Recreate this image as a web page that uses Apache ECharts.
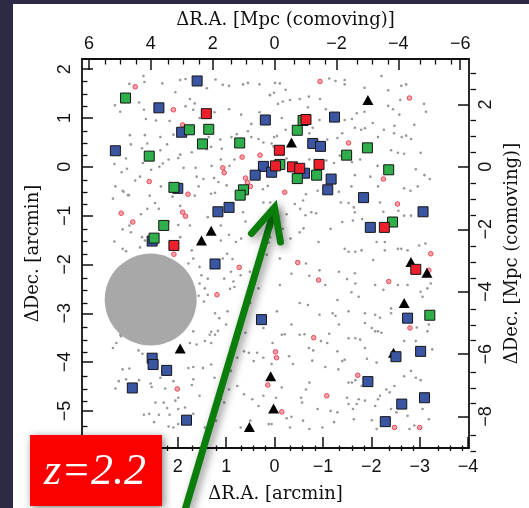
<!DOCTYPE html>
<html>
<head>
<meta charset="utf-8">
<script src="https://cdn.jsdelivr.net/npm/echarts@6/dist/echarts.min.js"></script>
<style>
  html, body { margin: 0; padding: 0; background: #ffffff; }
  #chart { width: 529px; height: 508px; }
</style>
</head>
<body>
<div id="chart"></div>
<script>
// Sky offsets from the field centre, in arcmin: [ΔR.A., ΔDec.]
const blueSquares = [
  [1.60, 1.76], [2.39, 1.21], [0.19, 0.96], [-1.24, 1.02], [1.92, 0.71], [3.29, 0.33],
  [-0.79, 0.48], [-0.95, 0.42], [0.23, 0.01], [0.06, -0.11], [0.40, -0.17], [-0.62, -0.13],
  [-1.17, -0.25], [-1.10, -0.47], [2.00, -0.44], [-1.84, -0.63], [0.94, -0.83], [1.17, -0.92],
  [-3.07, -0.92], [2.53, -1.52], [-1.98, -1.24], [1.23, -1.99], [0.27, -3.13], [-2.75, -3.10],
  [2.53, -3.92], [2.51, -4.05], [2.23, -4.17], [2.94, -4.53], [1.82, -5.19], [-1.93, -4.40],
  [-2.51, -3.89], [-3.02, -3.78], [-2.63, -4.86], [-3.10, -4.73], [-2.29, -5.22]
];
const greenSquares = [
  [3.08, 1.41], [1.76, 0.76], [1.36, 0.77], [1.49, 0.47], [0.72, 0.49], [2.59, 0.22],
  [-0.47, 0.75], [-0.59, 0.95], [-1.92, 0.39], [-1.49, 0.24], [-2.36, -0.06], [-0.11, 0.05],
  [-0.47, -0.24], [-0.87, -0.17], [2.08, -0.42], [0.64, -0.47], [0.71, -0.58], [2.29, -1.20],
  [2.49, -1.46], [-2.44, -1.13], [-3.21, -3.04]
];
const redSquares = [
  [1.41, 1.09], [-0.65, 0.97], [-0.10, 0.34], [-0.02, 0.02], [-0.37, 0.00], [-0.52, -0.03],
  [-0.92, 0.05], [2.08, -1.61], [-2.27, -1.24], [-2.92, -2.10]
];
const blackTriangles = [
  [-1.93, 1.37], [-0.35, 0.50], [1.31, -1.31], [1.51, -1.51], [-2.82, -1.95], [-3.15, -2.17],
  [-2.68, -2.79], [1.95, -3.72], [-2.46, -3.81], [0.08, -4.29], [0.02, -4.95], [0.52, -5.33]
];
const pinkCircles = [
  [2.88, 1.64], [2.09, 1.17], [1.90, 0.86], [-0.94, 1.75], [-2.79, 1.41], [-1.53, 0.49],
  [0.67, 0.20], [0.30, 0.24], [1.07, -0.02], [1.04, -0.12], [0.60, -0.23], [0.56, -0.32],
  [0.50, -0.40], [2.59, -0.30], [1.79, -0.56], [-0.21, -0.52], [-2.25, -0.25], [3.17, -0.95],
  [2.93, -1.13], [1.90, -0.93], [1.84, -1.01], [-2.54, -0.76], [2.08, -1.79], [0.73, -2.06],
  [-0.48, -1.96], [-3.23, -1.78], [-3.19, -2.12], [-0.91, -2.32], [-2.36, -2.35], [1.19, -2.62],
  [-2.80, -3.30], [-0.81, -3.50], [-0.02, -3.79], [-0.04, -3.91], [2.01, -4.55], [-1.72, -4.27],
  [0.14, -4.47], [-1.08, -4.69], [-0.15, -5.02], [-2.48, -5.34], [-3.00, -5.34]
];
const grayDots = [
  [2.71,1.86],[2.69,1.74],[3.00,1.70],[2.32,1.71],[1.95,1.78],[1.84,1.80],[1.40,1.61],[1.22,1.79],[1.07,1.68],[0.94,1.66],
  [0.65,1.69],[0.55,1.72],[0.31,1.69],[3.30,1.26],[3.19,1.13],[2.80,1.32],[2.70,1.17],[2.66,0.98],[2.45,0.95],[2.17,0.94],
  [2.05,1.53],[1.75,1.39],[1.65,1.30],[1.84,1.24],[1.68,1.17],[1.55,1.00],[1.24,1.12],[0.94,1.18],[0.69,1.07],[0.48,0.88],
  [0.31,1.12],[0.10,1.47],[0.55,0.73],[0.48,0.61],[0.33,0.57],[0.23,0.50],[0.06,0.48],[0.01,0.61],[2.99,0.65],[2.68,0.65],
  [2.63,0.48],[2.36,0.61],[2.09,0.66],[2.22,0.46],[2.97,0.46],[2.74,0.38],[2.36,0.34],[1.95,0.25],[1.71,0.30],[2.19,0.15],
  [2.31,0.07],[2.72,0.08],[3.07,0.17],[3.31,0.06],[3.16,-0.11],[3.05,-0.04],[2.78,-0.20],[2.88,-0.28],[2.55,-0.06],[2.38,0.00],
  [1.99,0.18],[1.88,-0.02],[1.63,-0.02],[1.61,-0.20],[1.47,-0.25],[1.25,-0.23],[1.16,-0.31],[0.99,-0.38],[0.93,0.02],[0.83,0.15],
  [1.30,0.02],[1.11,0.15],[1.40,0.36],[1.31,0.41],[1.09,0.37],[0.89,0.61],[0.78,0.67],[1.12,0.56],[1.36,0.61],[3.29,-0.40],
  [3.14,-0.49],[3.03,-0.58],[2.35,-0.40],[1.57,-0.40],[1.31,-0.55],[1.23,-0.53],[0.24,-0.46],[0.14,-0.39],[2.58,-0.59],[2.11,-0.61],
  [-0.01,1.72],[-0.11,1.71],[0.01,1.52],[-0.23,1.58],[-1.13,1.81],[-1.26,1.76],[-1.45,1.78],[-1.45,1.69],[-1.86,1.62],[-2.21,1.86],
  [-2.62,1.66],[-2.72,1.69],[-2.35,1.57],[0.09,1.47],[-0.07,1.29],[-0.17,1.34],[-0.32,1.37],[-0.52,1.39],[-0.71,1.44],[-0.94,1.39],
  [-1.06,1.18],[-0.69,1.22],[-0.93,0.96],[-1.45,0.96],[-1.60,0.98],[-1.70,1.10],[-1.86,1.13],[-2.03,0.90],[-2.35,1.25],[-2.45,1.18],
  [-2.58,1.07],[-2.60,1.37],[-3.09,1.29],[-3.13,1.13],[-2.89,0.86],[-2.48,0.84],[-2.47,0.69],[-2.63,0.61],[-2.72,0.64],[-2.82,0.57],
  [-2.26,0.76],[-2.14,0.61],[-1.87,0.79],[-1.66,0.80],[-1.79,0.76],[-1.30,0.59],[-1.09,0.56],[-0.72,0.69],[-0.79,0.80],[-0.23,0.76],
  [-0.05,0.63],[0.02,0.42],[-1.35,0.23],[-1.77,0.15],[-1.60,0.10],[-2.13,0.02],[-2.41,0.34],[-2.55,0.29],[-2.68,0.27],[-3.02,0.29],
  [-2.92,-0.05],[-3.10,-0.17],[-3.21,-0.25],[-2.68,-0.44],[-2.81,-0.49],[-2.96,-0.40],[-2.14,-0.40],[-1.98,-0.20],[-1.66,-0.17],[-1.59,-0.40],
  [-1.33,-0.51],[-0.89,-0.49],[-0.65,-0.56],[-1.23,0.08],[-0.72,0.15],[-1.07,0.13],[-0.25,0.17],[-1.40,0.69],[-0.15,1.00],
  [3.34,-0.65],[3.12,-0.51],[3.01,-0.58],[2.47,-0.74],[2.39,-0.86],[2.63,-0.86],[2.76,-0.97],[3.00,-1.20],[2.97,-1.34],[3.14,-1.28],
  [3.31,-1.53],[3.14,-1.68],[3.07,-1.73],[2.78,-1.65],[2.68,-1.51],[2.74,-1.44],[2.19,-1.12],[1.99,-1.19],[1.95,-1.44],[1.75,-1.20],
  [1.71,-1.71],[1.68,-1.88],[1.78,-1.98],[1.55,-2.05],[1.51,-2.22],[1.38,-2.29],[1.55,-2.39],[1.44,-2.49],[1.57,-2.64],[1.38,-2.62],
  [1.46,-2.76],[1.23,-3.00],[1.14,-3.10],[0.97,-2.96],[1.00,-3.23],[1.31,-3.38],[1.23,-3.44],[1.68,-3.37],[3.19,-3.44],[0.92,-2.50],
  [0.83,-2.46],[0.85,-2.35],[0.70,-2.22],[0.51,-2.15],[0.90,-2.15],[1.04,-2.29],[1.07,-1.88],[0.87,-1.89],[0.98,-1.78],[0.80,-1.54],
  [0.69,-1.47],[1.11,-1.51],[0.94,-1.39],[0.60,-1.12],[0.65,-0.93],[0.23,-0.73],[0.09,-0.73],[0.12,-1.55],[0.16,-1.80],[0.33,-2.49],
  [0.50,-2.79],[0.23,-3.30],[0.60,-3.40],[1.11,-1.20],[1.38,-1.03],[1.65,-0.59],[1.95,-0.80],
  [-0.25,-0.97],[-0.42,-0.76],[-0.59,-0.69],[-0.76,-0.93],[-0.86,-0.95],[-0.64,-0.99],[-0.53,-0.86],[-0.17,-1.27],[-0.33,-1.47],[-0.52,-1.34],
  [-0.60,-1.26],[-0.91,-1.54],[-1.16,-1.27],[-1.37,-0.73],[-1.53,-0.74],[-1.64,-0.83],[-1.66,-0.93],[-1.62,-1.10],[-1.81,-1.07],[-1.40,-1.13],
  [-1.45,-1.68],[-1.53,-1.74],[-1.67,-1.74],[-1.80,-1.71],[-2.04,-1.91],[-2.11,-1.54],[-2.28,-1.71],[-2.28,-1.54],[-2.55,-1.68],[-2.62,-1.68],
  [-2.75,-1.71],[-2.99,-1.61],[-3.12,-1.57],[-2.82,-1.00],[-2.68,-1.00],[-2.56,-0.90],[-2.25,-0.92],[-2.18,-0.73],[-0.11,-1.88],[-0.35,-2.19],
  [-0.11,-2.42],[-0.65,-1.98],[-0.93,-2.12],[-0.72,-2.23],[-1.05,-2.42],[-1.33,-2.15],[-1.50,-2.30],[-1.67,-2.39],[-1.66,-2.18],[-2.08,-2.42],
  [-2.25,-2.52],[-2.55,-2.42],[-2.75,-2.42],[-3.02,-2.56],[-3.06,-2.66],[-3.16,-2.49],[-3.23,-2.39],[-1.59,-2.57],[-1.74,-2.66],[-1.30,-2.73],
  [-0.69,-2.83],[-0.52,-2.79],[-0.05,-2.96],[-0.35,-3.23],[-0.93,-3.03],[-1.20,-3.00],[-1.26,-3.05],[-1.53,-2.96],[-1.87,-3.00],[-2.08,-3.03],
  [-2.18,-3.09],[-2.41,-2.90],[-2.41,-3.00],[-1.87,-3.20],[-2.01,-3.30],[-2.14,-3.37],[-1.33,-3.23],[-1.13,-3.42],[-0.52,-3.44],[-0.15,-3.44],
  [-2.94,-3.29],[-3.19,-3.23],[0.09,-1.44],[0.06,-1.24],
  [3.17,-3.47],[2.81,-3.76],[2.73,-3.83],[1.75,-3.61],[1.61,-3.64],[1.44,-3.57],[1.31,-3.61],[1.17,-3.36],[1.34,-3.44],[3.14,-4.15],
  [3.00,-4.13],[3.22,-4.39],[3.29,-4.54],[3.07,-4.35],[2.80,-4.37],[2.56,-4.44],[2.54,-4.51],[2.36,-4.32],[2.26,-4.54],[2.09,-4.39],
  [1.78,-4.12],[1.68,-4.10],[1.48,-4.12],[1.31,-4.05],[1.68,-4.35],[1.71,-4.47],[1.24,-4.32],[1.99,-4.73],[2.05,-4.79],[2.46,-4.83],
  [2.29,-4.83],[2.22,-4.94],[2.70,-5.08],[2.59,-5.06],[2.39,-5.08],[2.17,-5.08],[1.99,-4.96],[1.85,-4.93],[1.68,-5.06],[1.55,-4.69],
  [1.24,-4.96],[1.34,-5.17],[1.21,-5.20],[1.11,-4.76],[1.04,-4.83],[2.49,-5.23],[2.19,-5.32],[2.09,-5.34],[1.99,-5.27],[1.44,-5.34],
  [0.77,-3.91],[0.63,-3.78],[0.53,-3.81],[0.36,-3.81],[0.43,-3.98],[0.23,-3.91],[0.77,-4.49],[0.63,-4.66],[0.46,-4.76],[0.33,-4.90],
  [0.23,-4.69],[0.50,-5.20],[0.70,-5.34],[0.12,-5.27],[0.94,-4.56],[0.90,-4.18],[3.34,-3.71],[3.27,-3.61],
  [-0.21,-3.43],[0.04,-3.61],[-0.30,-3.88],[-0.38,-4.04],[0.06,-4.04],[-0.15,-4.52],[-0.03,-4.73],[-0.55,-4.73],[-0.57,-4.83],[-0.35,-5.12],
  [-0.25,-5.15],[-0.59,-5.20],[0.06,-5.27],[-0.65,-4.56],[-0.72,-4.42],[-0.62,-3.43],[-0.96,-3.57],[-1.09,-3.61],[-0.71,-3.71],[-0.80,-3.76],
  [-0.78,-3.97],[-1.05,-4.10],[-1.30,-3.78],[-1.32,-4.15],[-1.40,-3.98],[-1.45,-3.95],[-1.67,-3.51],[-1.77,-3.54],[-1.53,-3.51],[-1.87,-3.71],
  [-1.91,-3.93],[-2.11,-4.01],[-1.60,-4.42],[-1.67,-4.37],[-1.53,-4.42],[-1.80,-4.49],[-1.50,-4.73],[-1.53,-4.86],[-1.62,-4.96],[-1.70,-4.86],
  [-1.74,-4.76],[-1.87,-4.79],[-2.08,-4.90],[-2.14,-4.76],[-2.18,-4.69],[-2.31,-4.56],[-2.38,-4.62],[-2.48,-4.49],[-2.68,-4.29],[-2.92,-4.32],
  [-3.02,-4.37],[-2.82,-4.18],[-2.92,-3.57],[-3.16,-3.37],[-3.26,-3.74],[-2.68,-3.57],[-2.08,-3.37],[-2.21,-3.40],[-0.89,-4.96],[-1.16,-5.00],
  [-1.30,-5.03],[-1.23,-5.23],[-0.99,-5.34],[-1.64,-5.17],[-2.01,-5.19],[-2.11,-5.37],[-2.75,-5.10],[-2.79,-5.37],[-2.89,-5.30],[-3.06,-4.96],
  [-3.19,-5.17],[-2.41,-4.96],[-2.52,-5.03],[-0.32,-5.34],[-0.72,-5.37]
];
// Masked area around a bright foreground star
const maskCentre = [[2.56, -2.72]];

// Axis extents and tick labels
const raArcminRange = [-4.02, 3.98];
const decArcminRange = [-5.76, 2.21];
const mpcPerArcmin = 1.5635;
const raArcminTicks = [-4, -3, -2, -1, 0, 1, 2, 3];
const decArcminTicks = [-5, -4, -3, -2, -1, 0, 1, 2];
const raMpcTicks = [-6, -4, -2, 0, 2, 4, 6];
const decMpcTicks = [-8, -6, -4, -2, 0, 2];
const redshiftLabel = 'z=2.2';

function stepsWithin(lo, hi, step, skipEvery) {
  const out = [];
  const start = Math.ceil(lo / step - 1e-9);
  const end = Math.floor(hi / step + 1e-9);
  for (let i = start; i <= end; i++) {
    if (skipEvery && i % skipEvery === 0) continue;
    out.push(+(i * step).toFixed(4));
  }
  return out;
}
const raMpcRange = raArcminRange.map(v => v * mpcPerArcmin);
const decMpcRange = decArcminRange.map(v => v * mpcPerArcmin);

const minus = v => (v < 0 ? '\u2212' + Math.abs(v) : String(v));
const tickFont = { fontFamily: '"Liberation Sans", Arial, sans-serif', fontSize: 18, color: '#111' };
const titleFont = { fontFamily: '"DejaVu Serif", serif', fontSize: 18, color: '#111' };
const lineStyle = { color: '#111', width: 1.8 };
const gridRect = { left: 82, top: 59, width: 394, height: 392 };

function majorAxis(extra) {
  return Object.assign({
    type: 'value',
    gridIndex: 0,
    splitLine: { show: false },
    axisLine: { show: true, onZero: false, lineStyle: lineStyle },
    nameLocation: 'middle',
    nameTextStyle: titleFont
  }, extra);
}
function minorAxis(extra) {
  return Object.assign({
    type: 'value',
    gridIndex: 1,
    splitLine: { show: false },
    axisLine: { show: false, onZero: false },
    axisLabel: { show: false }
  }, extra);
}
function majorTick(values) {
  return { show: true, inside: true, length: 11, customValues: values, lineStyle: { color: '#111', width: 1.5 } };
}
function minorTick(values) {
  return { show: true, inside: true, length: 5.5, customValues: values, lineStyle: { color: '#111', width: 1.3 } };
}

const squareStyle = (color) => ({ color: color, opacity: 1, borderColor: '#151515', borderWidth: 1 });

const chart = echarts.init(document.getElementById('chart'), null, { renderer: 'canvas' });
chart.setOption({
  animation: false,
  backgroundColor: '#ffffff',
  grid: [Object.assign({}, gridRect), Object.assign({}, gridRect)],
  xAxis: [
    majorAxis({
      position: 'bottom', inverse: true, min: raArcminRange[0], max: raArcminRange[1],
      axisTick: majorTick(raArcminTicks),
      axisLabel: Object.assign({ customValues: raArcminTicks, formatter: minus, margin: 10 }, tickFont),
      name: 'ΔR.A. [arcmin]', nameGap: 37
    }),
    majorAxis({
      position: 'top', inverse: true, min: raMpcRange[0], max: raMpcRange[1],
      axisTick: majorTick(raMpcTicks),
      axisLabel: Object.assign({ customValues: raMpcTicks, formatter: minus, margin: 6 }, tickFont),
      name: 'ΔR.A. [Mpc (comoving)]', nameGap: 30,
      nameTextStyle: Object.assign({ padding: [0, 0, 0, 20] }, titleFont)
    }),
    minorAxis({ position: 'bottom', inverse: true, min: raArcminRange[0], max: raArcminRange[1],
      axisTick: minorTick(stepsWithin(raArcminRange[0], raArcminRange[1], 0.25, 4)) }),
    minorAxis({ position: 'top', inverse: true, min: raMpcRange[0], max: raMpcRange[1],
      axisTick: minorTick(stepsWithin(raMpcRange[0], raMpcRange[1], 0.5, 4)) })
  ],
  yAxis: [
    majorAxis({
      position: 'left', min: decArcminRange[0], max: decArcminRange[1],
      axisTick: majorTick(decArcminTicks),
      axisLabel: Object.assign({ customValues: decArcminTicks, formatter: minus, rotate: 90, margin: 8 }, tickFont),
      name: 'ΔDec. [arcmin]', nameGap: 40
    }),
    majorAxis({
      position: 'right', min: decMpcRange[0], max: decMpcRange[1],
      axisTick: majorTick(decMpcTicks),
      axisLabel: Object.assign({ customValues: decMpcTicks, formatter: minus, rotate: 90, margin: 8 }, tickFont),
      name: 'ΔDec. [Mpc (comoving)]', nameGap: 34
    }),
    minorAxis({ position: 'left', min: decArcminRange[0], max: decArcminRange[1],
      axisTick: minorTick(stepsWithin(decArcminRange[0], decArcminRange[1], 0.25, 4)) }),
    minorAxis({ position: 'right', min: decMpcRange[0], max: decMpcRange[1],
      axisTick: minorTick(stepsWithin(decMpcRange[0], decMpcRange[1], 0.5, 4)) })
  ],
  series: [
    { type: 'scatter', name: 'field galaxies', data: grayDots, symbol: 'circle', symbolSize: 2.6,
      itemStyle: { color: '#979797', opacity: 1 }, silent: true, z: 2 },
    { type: 'scatter', name: 'mask', data: maskCentre, symbol: 'circle', symbolSize: 92,
      itemStyle: { color: '#a8a8a8', opacity: 1 }, silent: true, z: 3 },
    { type: 'scatter', name: 'candidates', data: pinkCircles, symbol: 'circle', symbolSize: 4.6,
      itemStyle: { color: '#f5a3a8', opacity: 1, borderColor: '#e6485a', borderWidth: 1 }, z: 4 },
    { type: 'scatter', name: 'AGN', data: blackTriangles, symbol: 'triangle', symbolSize: [11, 10],
      itemStyle: { color: '#000000', opacity: 1 }, z: 5 },
    { type: 'scatter', name: 'blue', data: blueSquares, symbol: 'rect', symbolSize: 10,
      itemStyle: squareStyle('#3a55a2'), z: 6 },
    { type: 'scatter', name: 'green', data: greenSquares, symbol: 'rect', symbolSize: 10,
      itemStyle: squareStyle('#2eaf4b'), z: 7 },
    { type: 'scatter', name: 'red', data: redSquares, symbol: 'rect', symbolSize: 10,
      itemStyle: squareStyle('#ec1f2b'), z: 8 }
  ],
  graphic: [
    // slide frame
    { type: 'rect', shape: { x: 0, y: 0, width: 13, height: 508 }, style: { fill: '#2d2a46' }, z: 100 },
    { type: 'rect', shape: { x: 0, y: 0, width: 529, height: 4 }, style: { fill: '#2d2a46' }, z: 100 },
    // pointer arrow
    { type: 'polyline', shape: { points: [[185, 510], [274.5, 209]] },
      style: { stroke: '#0a7d0a', lineWidth: 7, lineCap: 'butt', fill: null,
        shadowBlur: 8, shadowColor: 'rgba(0,0,0,0.45)', shadowOffsetX: 3, shadowOffsetY: 3 }, z: 110 },
    { type: 'polyline', shape: { points: [[251.5, 233.5], [274.5, 207.5], [280.5, 242]] },
      style: { stroke: '#0a7d0a', lineWidth: 7, lineCap: 'round', lineJoin: 'miter', fill: null,
        shadowBlur: 8, shadowColor: 'rgba(0,0,0,0.45)', shadowOffsetX: 3, shadowOffsetY: 3 }, z: 110 },
    // redshift badge
    { type: 'rect', shape: { x: 30, y: 435, width: 132, height: 71 },
      style: { fill: '#fa0000', shadowBlur: 8, shadowColor: 'rgba(0,0,0,0.5)', shadowOffsetX: 2, shadowOffsetY: 2 }, z: 110 },
    { type: 'text', x: 95, y: 472,
      style: { text: redshiftLabel, fill: '#ffffff', font: 'italic 44px "Liberation Serif", "Times New Roman", serif',
        textAlign: 'center', textVerticalAlign: 'middle',
        shadowBlur: 3, shadowColor: 'rgba(0,0,0,0.4)', shadowOffsetX: 1, shadowOffsetY: 1 }, z: 111 }
  ]
});
</script>
</body>
</html>
